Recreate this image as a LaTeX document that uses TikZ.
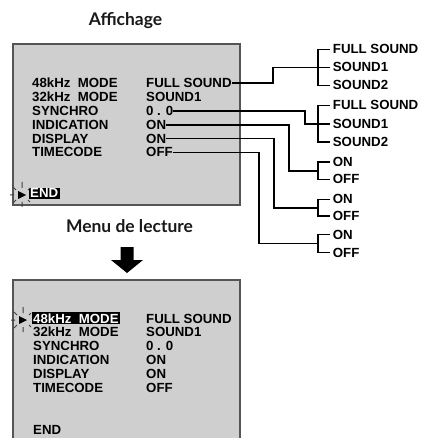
\documentclass[tikz,border=0pt]{standalone}
\usepackage{fontspec}
\setmainfont{Liberation Sans}
\newfontfamily\titlefont{Lato}
\usetikzlibrary{calc}
\definecolor{screen}{RGB}{207,207,207}
\definecolor{frame}{RGB}{85,85,85}
\begin{document}
\begin{tikzpicture}[x=1bp,y=-1bp,
  lbl/.style={inner sep=0pt, anchor=base west, font=\fontsize{13.3}{14}\selectfont\bfseries},
  hil/.style={lbl, fill=black, text=white, inner xsep=1.5bp, inner ysep=1.2bp},
  ttl/.style={inner sep=0pt, anchor=base, font=\titlefont\fontsize{17.5}{18}\selectfont\bfseries, text=black!90},
  conn/.style={line width=1.8bp, black},
  ray/.style={line width=1bp, black!75},
  cursor/.pic={
    \fill[black] (-4,-4) -- (4,0) -- (-4,4) -- cycle;
    \draw[ray] (0,-7) -- (0,-13) (0,7) -- (0,12) (-8,0) -- (-12,0)
      (-6,-5) -- (-9,-8) (-6,5) -- (-9,8) (6,-5) -- (8,-7) (6,5) -- (8,7);
  }]
\useasboundingbox (0,0) rectangle (421,438);

% titles
\node[ttl] (title1) at (125.5,26) {Affichage};
\node[ttl] (title2) at (129.5,232.7) {Menu de lecture};

% top screen
\fill[screen] (13,44) rectangle (240,205);
\draw[frame, line width=1.3bp] (13,44) rectangle (240,205);

\foreach \i/\l/\v [count=\n] in {0/48kHz\ \ MODE/FULL SOUND, 1/32kHz\ \ MODE/SOUND1, 2/SYNCHRO/0 . 0, 3/INDICATION/ON, 4/DISPLAY/ON, 5/TIMECODE/OFF}{
  \node[lbl] (t\n) at (32,87.5+13.9*\i) {\l};
  \node[lbl] (v\n) at (146,87.5+13.9*\i) {\v};
}
\node[hil] (endA) at (28.5,198) {END};
\pic at (22,195) {cursor};

% option labels
\node[lbl] (fsA) at (332.7,54) {FULL SOUND};
\node[lbl] (s1A) at (332.7,72) {SOUND1};
\node[lbl] (s2A) at (332.7,90) {SOUND2};
\node[lbl] (fsB) at (332.7,110) {FULL SOUND};
\node[lbl] (s1B) at (332.7,128.5) {SOUND1};
\node[lbl] (s2B) at (332.7,146.5) {SOUND2};
\node[lbl] (onC) at (332.7,166.5) {ON};
\node[lbl] (offC) at (332.7,184) {OFF};
\node[lbl] (onD) at (332.7,204) {ON};
\node[lbl] (offD) at (332.7,220.5) {OFF};
\node[lbl] (onE) at (332.7,239) {ON};
\node[lbl] (offE) at (332.7,257) {OFF};

\coordinate (bx) at (318,0);
\coordinate (k1) at (273,0);
\coordinate (k2) at (305,0);
\coordinate (k3) at (289,0);
\coordinate (k4) at (274,0);
\coordinate (k5) at (259,0);

% brackets
\foreach \a/\b in {fsA/s2A, fsB/s2B, onC/offC, onD/offD, onE/offE}{
  \draw[conn] ([xshift=-2.5bp]\a.west) -- (\a.west -| bx) -- (\b.west -| bx) -- ([xshift=-2.5bp]\b.west);
}
\coordinate (jC) at ($(onC.west -| bx)!0.5!(offC.west -| bx)$);
\coordinate (jD) at ($(onD.west -| bx)!0.5!(offD.west -| bx)$);
\coordinate (jE) at ($(onE.west -| bx)!0.5!(offE.west -| bx)$);

% connectors
\draw[conn] (v1.east) -- (v1.east -| k1) |- ([xshift=-2.5bp]s1A.west);
\draw[conn] (v3.east) -- (v3.east -| k2) |- ([xshift=-2.5bp]s1B.west);
\draw[conn] (v4.east) -- (v4.east -| k3) |- (jC);
\draw[conn] (v5.east) -- (v5.east -| k4) |- (jD);
\draw[conn] (v6.east) -- (v6.east -| k5) |- (jE);

% arrow
\fill[black] (120.5,247) -- (133.5,247) -- (133.5,260) -- (143,260) -- (127,273) -- (111,260) -- (120.5,260) -- cycle;

% bottom screen
\fill[screen] (13,280) rectangle (240,438);
\draw[frame, line width=1.3bp] (13,440) -- (13,280) -- (240,280) -- (240,440);

\node[hil] (b1) at (31.5,323) {48kHz\ \ MODE};
\node[lbl] (w1) at (146,323) {FULL SOUND};
\foreach \i/\l/\v [count=\n from 2] in {1/32kHz\ \ MODE/SOUND1, 2/SYNCHRO/0 . 0, 3/INDICATION/ON, 4/DISPLAY/ON, 5/TIMECODE/OFF}{
  \node[lbl] (b\n) at (33,323+13.94*\i) {\l};
  \node[lbl] (w\n) at (146,323+13.94*\i) {\v};
}
\node[lbl] (endB) at (33,434) {END};
\pic at (23,320) {cursor};
\end{tikzpicture}
\end{document}
